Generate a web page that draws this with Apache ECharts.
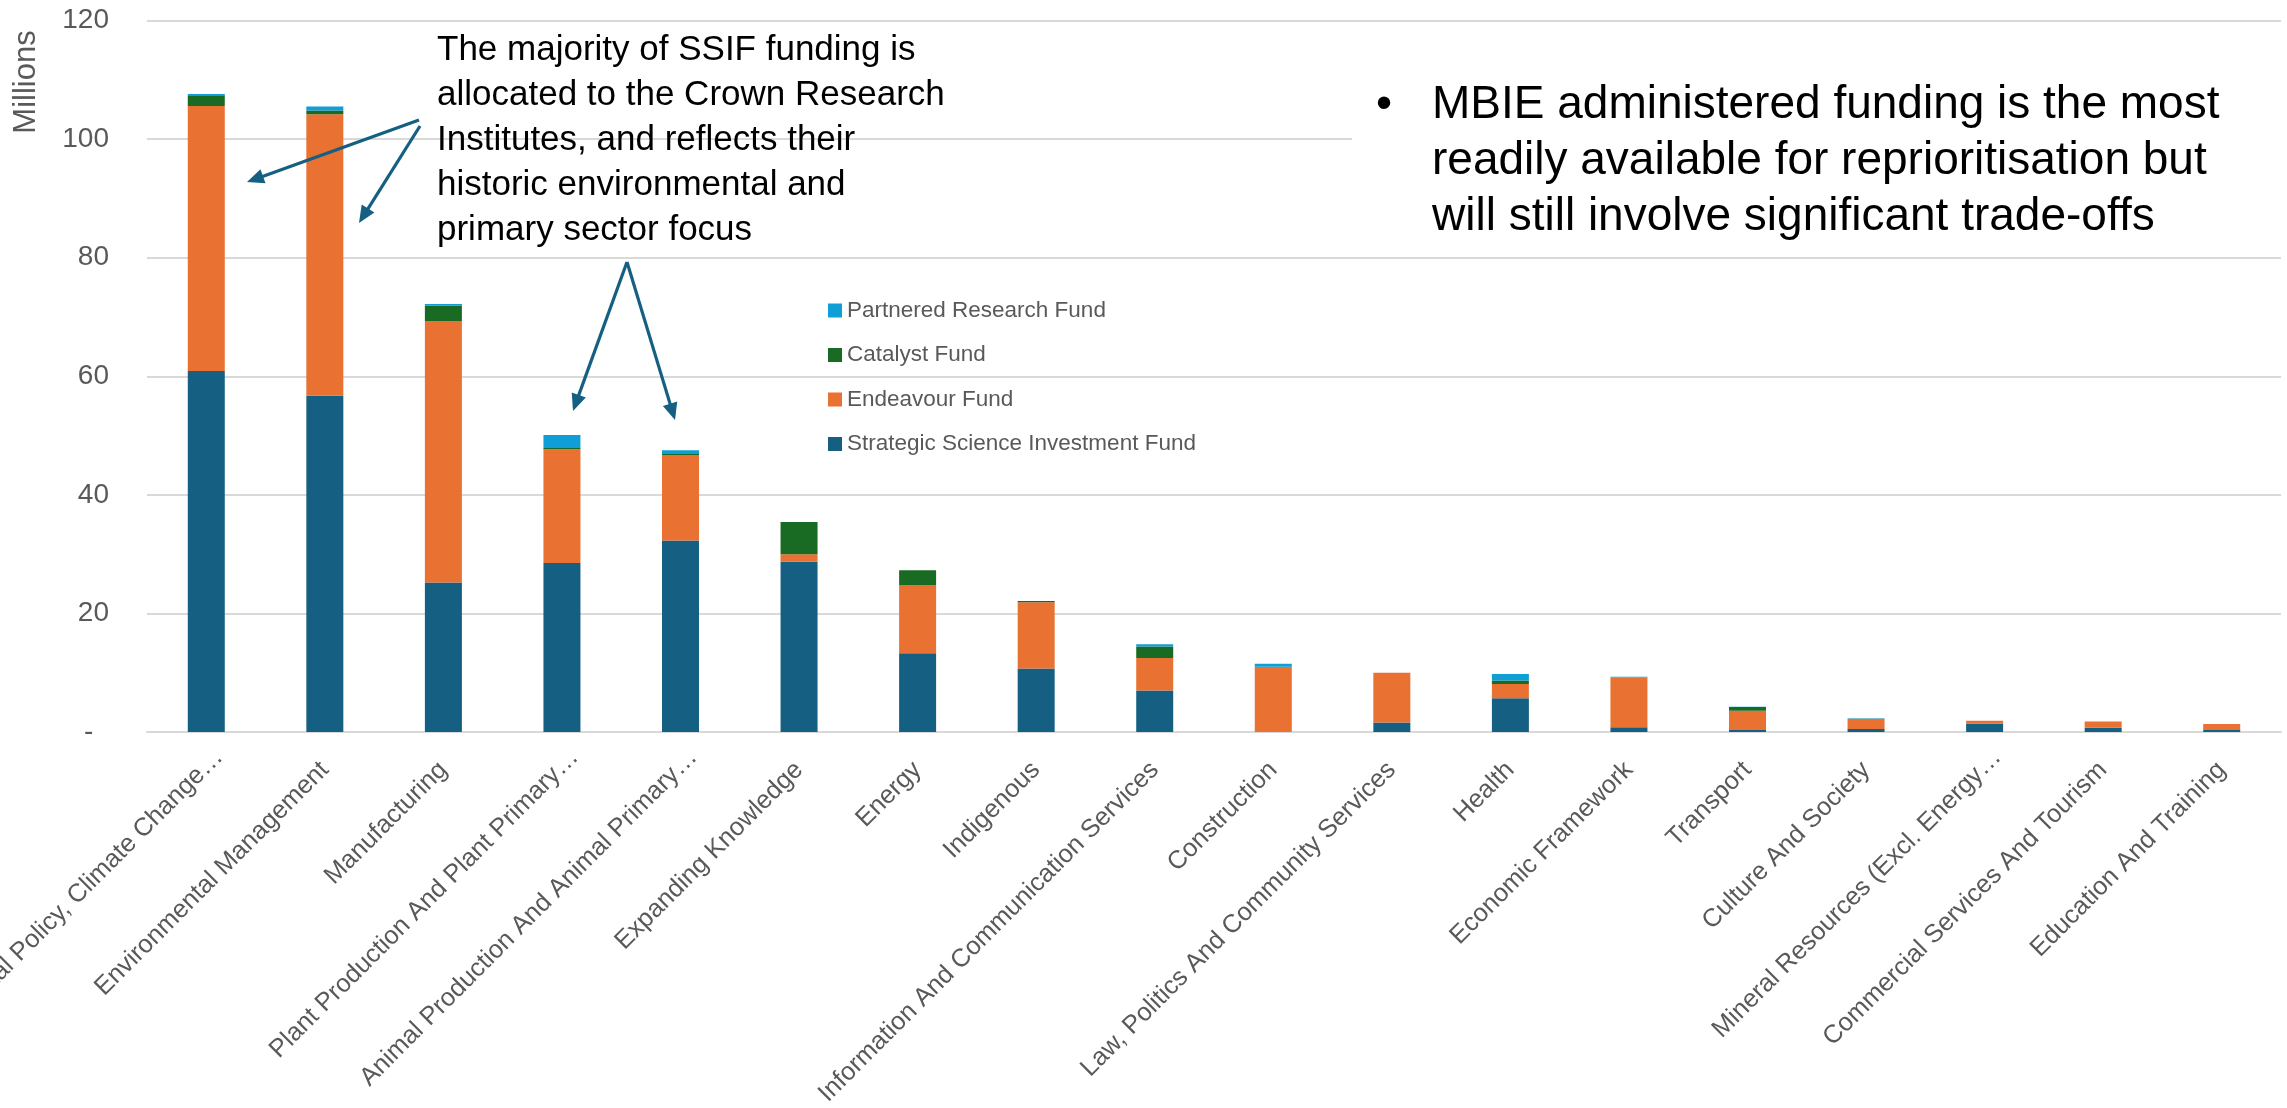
<!DOCTYPE html>
<html>
<head>
<meta charset="utf-8">
<script src="https://cdn.jsdelivr.net/npm/echarts@6/dist/echarts.min.js"></script>
<style>
html,body{margin:0;padding:0;background:#ffffff;}
#chart{width:2287px;height:1108px;}
</style>
</head>
<body>
<div id="chart"></div>
<script>
// Research funding by ANZSRC socio-economic objective, $ millions
const categories = [
  'Environmental Policy, Climate Change…',
  'Environmental Management',
  'Manufacturing',
  'Plant Production And Plant Primary…',
  'Animal Production And Animal Primary…',
  'Expanding Knowledge',
  'Energy',
  'Indigenous',
  'Information And Communication Services',
  'Construction',
  'Law, Politics And Community Services',
  'Health',
  'Economic Framework',
  'Transport',
  'Culture And Society',
  'Mineral Resources (Excl. Energy…',
  'Commercial Services And Tourism',
  'Education And Training'
];
const ssifFund      = [60.9, 56.7, 25.2, 28.5, 32.3, 28.7, 13.3, 10.7, 7.0, 0.1, 1.6, 5.7, 0.8, 0.35, 0.5, 1.4, 0.7, 0.35];
const endeavourFund = [44.7, 47.5, 44.1, 19.2, 14.4, 1.3, 11.5, 11.2, 5.5, 10.9, 8.4, 2.4, 8.45, 3.25, 1.75, 0.5, 1.05, 1.0];
const catalystFund  = [1.8, 0.6, 2.6, 0.2, 0.2, 5.4, 2.5, 0.2, 1.9, 0, 0, 0.6, 0, 0.6, 0, 0, 0, 0];
const partneredFund = [0.2, 0.7, 0.3, 2.2, 0.6, 0, 0, 0, 0.4, 0.5, 0, 1.1, 0.05, 0.05, 0.05, 0, 0, 0];
const yMin = 0, yMax = 120, yStep = 20;

const seriesNames = {
  ssif: 'Strategic Science Investment Fund',
  endeavour: 'Endeavour Fund',
  catalyst: 'Catalyst Fund',
  partnered: 'Partnered Research Fund'
};
const colors = {
  ssif: '#156082',
  endeavour: '#E97132',
  catalyst: '#196B24',
  partnered: '#0F9ED5'
};

const FONT = "'Liberation Sans', Arial, sans-serif";
const GREY = '#595959';

// shortened names (ending in an ellipsis) sit a little further along their baseline
const axisCategories = categories.map(function (c) {
  return c.endsWith('…') ? { value: c, textStyle: { padding: [0, -18, 0, 0] } } : c;
});

function bar(key, values) {
  return {
    name: seriesNames[key],
    type: 'bar',
    stack: 'total',
    barWidth: 37,
    itemStyle: { color: colors[key] },
    data: values
  };
}

// arrow = shaft line + triangular head
function arrow(x1, y1, x2, y2) {
  const dx = x2 - x1, dy = y2 - y1, len = Math.hypot(dx, dy);
  const ux = dx / len, uy = dy / len, hl = 17, hw = 7.5;
  const bx = x2 - ux * hl, by = y2 - uy * hl;
  return [
    { type: 'line', z: 20, shape: { x1: x1, y1: y1, x2: bx + ux * 2, y2: by + uy * 2 },
      style: { stroke: '#156082', lineWidth: 3.2 } },
    { type: 'polygon', z: 20,
      shape: { points: [[x2, y2], [bx - uy * hw, by + ux * hw], [bx + uy * hw, by - ux * hw]] },
      style: { fill: '#156082' } }
  ];
}

const chart = echarts.init(document.getElementById('chart'), null, { renderer: 'canvas' });

chart.setOption({
  animation: false,
  backgroundColor: '#ffffff',
  grid: { left: 147, right: 6, top: 20.5, bottom: 376, containLabel: false, outerBoundsMode: 'none' },
  legend: {
    orient: 'vertical',
    left: 823,
    top: 294,
    itemWidth: 14,
    itemHeight: 14,
    itemGap: 21.5,
    icon: 'rect',
    data: [seriesNames.partnered, seriesNames.catalyst, seriesNames.endeavour, seriesNames.ssif],
    textStyle: { color: GREY, fontSize: 22.5, fontFamily: FONT }
  },
  xAxis: {
    type: 'category',
    data: axisCategories,
    axisLine: { lineStyle: { color: '#d9d9d9', width: 2 } },
    axisTick: { show: false },
    axisLabel: {
      interval: 0,
      rotate: 45,
      margin: 34,
      color: GREY,
      fontSize: 25.5,
      fontFamily: FONT
    }
  },
  yAxis: {
    type: 'value',
    min: yMin,
    max: yMax,
    interval: yStep,
    axisLine: { show: false },
    axisTick: { show: false },
    splitLine: { lineStyle: { color: '#d9d9d9', width: 2 } },
    axisLabel: {
      margin: 38,
      color: GREY,
      fontSize: 28,
      fontFamily: FONT,
      formatter: function (v) { return v === 0 ? '-  ' : String(v); }
    }
  },
  series: [
    bar('ssif', ssifFund),
    bar('endeavour', endeavourFund),
    bar('catalyst', catalystFund),
    bar('partnered', partneredFund)
  ],
  graphic: [
    { type: 'text', x: 26, y: 82, rotation: Math.PI / 2, z: 20,
      style: { text: 'Millions', fill: GREY, fontSize: 31, fontFamily: FONT, align: 'center', verticalAlign: 'middle' } },
    { type: 'text', x: 437, y: 28, z: 20,
      style: {
        text: 'The majority of SSIF funding is\nallocated to the Crown Research\nInstitutes, and reflects their\nhistoric environmental and\nprimary sector focus',
        fill: '#000000', fontSize: 35, lineHeight: 45, fontFamily: FONT, align: 'left', verticalAlign: 'top'
      } },
    { type: 'rect', z: 15, shape: { x: 1352, y: 32, width: 935, height: 212 }, style: { fill: '#ffffff' } },
    { type: 'text', x: 1376, y: 77, z: 20,
      style: { text: '•', fill: '#000000', fontSize: 46, lineHeight: 56, fontFamily: FONT, align: 'left', verticalAlign: 'top' } },
    { type: 'text', x: 1432, y: 77, z: 20,
      style: {
        text: 'MBIE administered funding is the most\nreadily available for reprioritisation but\nwill still involve significant trade-offs',
        fill: '#000000', fontSize: 46, lineHeight: 56, fontFamily: FONT, align: 'left', verticalAlign: 'top'
      } }
  ].concat(
    arrow(419, 120, 247, 182),
    arrow(420, 126, 359, 223),
    arrow(627, 262, 573, 411),
    arrow(627, 262, 675, 420)
  )
});
</script>
</body>
</html>
